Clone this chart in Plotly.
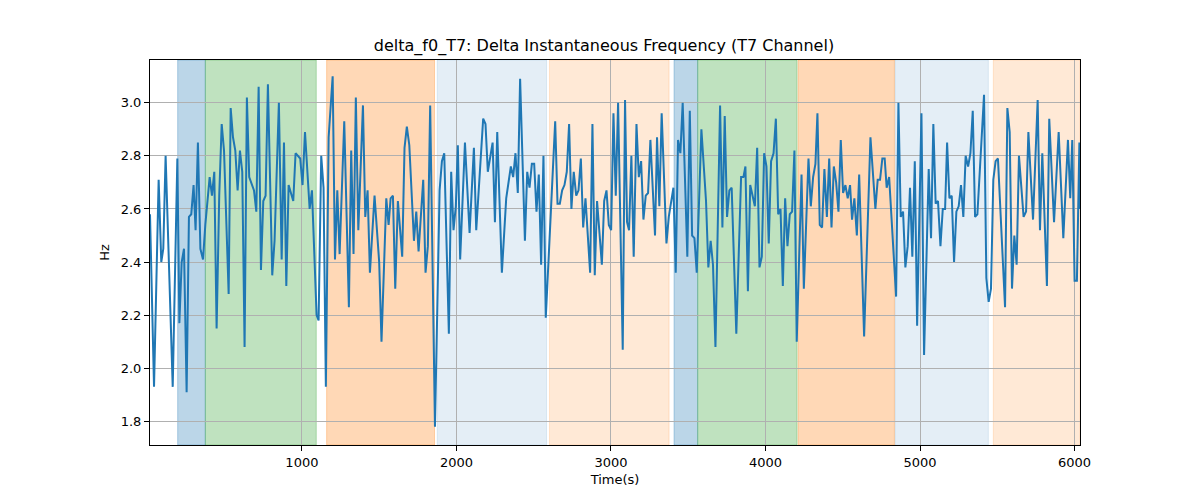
import plotly.graph_objects as go

# Time (s) and delta f0 (Hz)
time_s = [17, 43, 73, 90, 103, 118, 164, 194, 207, 222, 237, 254, 269, 284, 299, 312, 327, 343, 360, 375,
          403, 418, 433, 448, 465, 481, 496, 526, 539, 554, 569, 584, 599, 614, 629, 644, 659, 675, 690, 705,
          720, 735, 750, 765, 780, 808, 823, 851, 869, 884, 899, 914, 944, 959, 989, 1004, 1020, 1050, 1065,
          1095, 1108, 1125, 1140, 1155, 1173, 1199, 1214, 1229, 1244, 1274, 1304, 1319, 1334, 1349, 1365,
          1395, 1410, 1425, 1440, 1470, 1500, 1515, 1546, 1561, 1574, 1589, 1604, 1621, 1649, 1664, 1679,
          1695, 1725, 1740, 1755, 1785, 1800, 1815, 1830, 1861, 1891, 1906, 1921, 1951, 1966, 1981, 1996,
          2009, 2024, 2055, 2085, 2113, 2128, 2173, 2188, 2203, 2234, 2249, 2264, 2294, 2322, 2352, 2367,
          2382, 2397, 2412, 2443, 2458, 2473, 2488, 2503, 2518, 2533, 2548, 2563, 2578, 2639, 2654, 2669,
          2684, 2699, 2714, 2729, 2744, 2759, 2775, 2790, 2805, 2820, 2835, 2865, 2880, 2895, 2910, 2941,
          2956, 2971, 2986, 3001, 3016, 3031, 3046, 3076, 3091, 3104, 3117, 3132, 3147, 3165, 3180, 3195,
          3210, 3225, 3240, 3255, 3285, 3298, 3313, 3328, 3359, 3374, 3404, 3419, 3434, 3449, 3464, 3494,
          3510, 3525, 3540, 3555, 3585, 3615, 3630, 3645, 3660, 3676, 3706, 3721, 3736, 3751, 3766, 3781,
          3811, 3842, 3857, 3870, 3886, 3901, 3931, 3946, 3961, 3976, 3991, 4006, 4021, 4036, 4052, 4067,
          4082, 4097, 4112, 4127, 4142, 4157, 4172, 4187, 4202, 4233, 4248, 4278, 4293, 4308, 4323, 4336,
          4351, 4366, 4381, 4397, 4412, 4427, 4442, 4457, 4472, 4487, 4502, 4517, 4532, 4547, 4560, 4575,
          4591, 4606, 4638, 4679, 4711, 4726, 4741, 4756, 4771, 4784, 4800, 4845, 4860, 4875, 4890, 4905,
          4920, 4935, 4950, 4966, 4981, 5009, 5026, 5056, 5071, 5086, 5101, 5116, 5132, 5147, 5162, 5175,
          5190, 5205, 5220, 5235, 5250, 5265, 5280, 5295, 5311, 5326, 5341, 5356, 5371, 5414, 5429, 5444,
          5459, 5474, 5489, 5504, 5550, 5565, 5580, 5595, 5610, 5625, 5640, 5670, 5686, 5701, 5731, 5761,
          5776, 5791, 5821, 5836, 5867, 5897, 5927, 5957, 5972, 5985, 6000, 6015, 6031, 6035]

delta_f0 = [2.58, 1.93, 2.71, 2.40, 2.45, 2.80, 1.93, 2.79, 2.17, 2.40, 2.45, 1.91, 2.57, 2.58, 2.69, 2.52,
            2.85, 2.45, 2.41, 2.54, 2.72, 2.65, 2.74, 2.15, 2.65, 2.92, 2.82, 2.28, 2.98, 2.87, 2.82, 2.67,
            2.82, 2.74, 2.08, 3.02, 2.72, 2.69, 2.67, 2.59, 3.06, 2.37, 2.63, 2.65, 3.07, 2.35, 2.48, 3.00,
            2.41, 2.85, 2.31, 2.69, 2.63, 2.81, 2.79, 2.69, 2.89, 2.60, 2.67, 2.20, 2.18, 2.80, 2.68, 1.93,
            2.87, 3.10, 2.41, 2.67, 2.43, 2.93, 2.23, 2.82, 2.43, 3.02, 2.52, 2.99, 2.57, 2.67, 2.36, 2.65,
            2.40, 2.10, 2.64, 2.54, 2.64, 2.65, 2.30, 2.63, 2.42, 2.83, 2.91, 2.84, 2.48, 2.59, 2.44, 2.71,
            2.36, 2.46, 2.99, 1.78, 2.67, 2.78, 2.81, 2.13, 2.74, 2.52, 2.61, 2.84, 2.41, 2.85, 2.51, 2.83,
            2.52, 2.94, 2.92, 2.74, 2.85, 2.55, 2.89, 2.36, 2.64, 2.76, 2.72, 2.81, 2.66, 3.09, 2.48, 2.74,
            2.68, 2.77, 2.77, 2.59, 2.73, 2.39, 2.80, 2.19, 2.93, 2.62, 2.62, 2.67, 2.69, 2.74, 2.92, 2.60,
            2.74, 2.65, 2.67, 2.79, 2.53, 2.64, 2.36, 2.92, 2.35, 2.63, 2.39, 2.63, 2.67, 2.54, 2.52, 2.96,
            2.65, 3.00, 2.07, 3.01, 2.55, 2.52, 2.80, 2.42, 2.92, 2.72, 2.78, 2.56, 2.65, 2.66, 2.86, 2.50,
            2.87, 2.61, 2.96, 2.47, 2.57, 2.68, 2.36, 2.86, 2.81, 3.00, 2.42, 2.97, 2.50, 2.49, 2.36, 2.90,
            2.63, 2.38, 2.48, 2.39, 2.08, 2.99, 2.53, 2.95, 2.57, 2.67, 2.68, 2.13, 2.72, 2.72, 2.76, 2.29,
            2.69, 2.61, 2.83, 2.38, 2.42, 2.81, 2.76, 2.47, 2.78, 2.81, 2.94, 2.58, 2.60, 2.31, 2.64, 2.46,
            2.58, 2.59, 2.82, 2.10, 2.73, 2.30, 2.79, 2.61, 2.72, 2.77, 2.96, 2.54, 2.53, 2.75, 2.57, 2.79,
            2.53, 2.76, 2.70, 2.59, 2.86, 2.66, 2.69, 2.64, 2.69, 2.56, 2.64, 2.50, 2.73, 2.12, 2.87, 2.60,
            2.71, 2.71, 2.79, 2.79, 2.68, 2.72, 2.27, 3.00, 2.57, 2.59, 2.38, 2.46, 2.68, 2.42, 2.78, 2.16,
            2.96, 2.05, 2.75, 2.49, 2.92, 2.62, 2.63, 2.46, 2.60, 2.60, 2.85, 2.64, 2.65, 2.40, 2.59, 2.61,
            2.69, 2.57, 2.80, 2.76, 2.81, 2.97, 2.57, 2.58, 3.03, 2.34, 2.25, 2.30, 2.71, 2.78, 2.79, 2.23,
            2.98, 2.89, 2.30, 2.50, 2.39, 2.80, 2.57, 2.59, 2.89, 2.56, 3.01, 2.52, 2.81, 2.31, 2.94, 2.55,
            2.89, 2.49, 2.86, 2.64, 2.86, 2.33, 2.33, 2.85, 2.60]

# Shaded segments: (start, end, colour)
seg_start = [196, 375, 1160, 1876, 2602, 3408, 3561, 4211, 4838, 5474]
seg_end = [375, 1093, 1858, 2583, 3376, 3561, 4204, 4834, 5442, 6035]
seg_color = ["rgba(31,119,180,0.3)", "rgba(44,160,44,0.3)", "rgba(255,127,14,0.3)",
             "rgba(31,119,180,0.12)", "rgba(255,127,14,0.17)", "rgba(31,119,180,0.3)",
             "rgba(44,160,44,0.3)", "rgba(255,127,14,0.3)", "rgba(31,119,180,0.12)",
             "rgba(255,127,14,0.17)"]

x_ticks = [1000, 2000, 3000, 4000, 5000, 6000]
y_ticks = [1.8, 2.0, 2.2, 2.4, 2.6, 2.8, 3.0]

fig = go.Figure()
fig.add_trace(go.Scatter(x=time_s, y=delta_f0, mode="lines",
                         line=dict(color="#1f77b4", width=2), showlegend=False))

for s, e, c in zip(seg_start, seg_end, seg_color):
    fig.add_shape(type="rect", xref="x", yref="paper", x0=s, x1=e, y0=0, y1=1,
                  fillcolor=c, line=dict(width=1, color=c), layer="below")

font = dict(family="DejaVu Sans", size=13, color="black")
# page body has an 8px margin, so the figure is drawn 8px smaller with shifted margins
fig.update_layout(
    width=1192, height=492,
    margin=dict(l=142, r=120, t=52, b=55, autoexpand=False),
    paper_bgcolor="white", plot_bgcolor="white",
    font=font,
    title=dict(text="delta_f0_T7: Delta Instantaneous Frequency (T7 Channel)",
               x=0.5, xanchor="center", y=1 - 37 / 492, yanchor="middle",
               font=dict(family="DejaVu Sans", size=16, color="black")),
)
fig.update_xaxes(range=[17, 6035], tickvals=x_ticks, ticktext=[str(v) for v in x_ticks],
                 showgrid=True, gridcolor="#b0b0b0", gridwidth=1,
                 showline=True, linecolor="black", linewidth=1, mirror=True,
                 ticks="outside", ticklen=5, tickcolor="black", zeroline=False,
                 title=dict(text="Time(s)", font=font, standoff=6),
                 tickfont=font, automargin=False)
fig.update_yaxes(range=[1.711, 3.161], tickvals=y_ticks, ticktext=[f"{v:.1f}" for v in y_ticks],
                 showgrid=True, gridcolor="#b0b0b0", gridwidth=1,
                 showline=True, linecolor="black", linewidth=1, mirror=True,
                 ticks="outside", ticklen=5, tickcolor="black", zeroline=False,
                 title=dict(text="Hz", font=font, standoff=8),
                 tickfont=font, automargin=False)

fig.write_html("out.html")
